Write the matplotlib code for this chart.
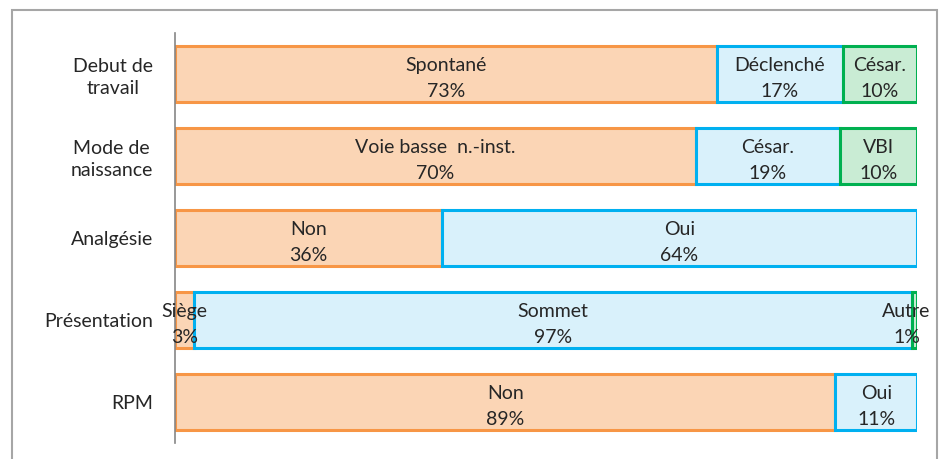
import matplotlib.pyplot as plt
from matplotlib.patches import Rectangle

# categories (top to bottom)
categories = ['Debut de\ntravail', 'Mode de\nnaissance', 'Analgésie', 'Présentation', 'RPM']

# segments per category: names and percentages (left to right)
seg_names = [
    ['Spontané', 'Déclenché', 'César.'],
    ['Voie basse  n.-inst.', 'César.', 'VBI'],
    ['Non', 'Oui'],
    ['Siège', 'Sommet', 'Autre'],
    ['Non', 'Oui'],
]
seg_values = [
    [73.0, 17.0, 10.0],
    [70.2, 19.4, 10.4],
    [36.0, 64.0],
    [2.6, 96.7, 0.7],
    [89.0, 11.0],
]

fills = ['#fbd5b5', '#d9f1fb', '#c9ecd4']
edges = ['#f79646', '#00b0f0', '#00b050']

plt.rcParams['font.family'] = ['Lato', 'DejaVu Sans']

fig = plt.figure(figsize=(9.4, 4.59), dpi=100)
# outer chart border
fig.patches.append(Rectangle((12 / 940, -0.05), (937 - 12) / 940, 1.05 - 10 / 459,
                             transform=fig.transFigure, fill=False,
                             edgecolor='#a6a6a6', linewidth=1.5))

ax = fig.add_axes([175 / 940, 1 - 443 / 459, (917 - 175) / 940, (443 - 33) / 459])

for i, (names, vals) in enumerate(zip(seg_names, seg_values)):
    left = 0
    for j, (name, v) in enumerate(zip(names, vals)):
        ax.barh(i, v, left=left, height=0.68, color=fills[j], edgecolor=edges[j],
                linewidth=2.2, zorder=2)
        xc = min(left + v / 2, 98.6)
        ax.text(xc, i - 0.04, name, ha='center', va='baseline', fontsize=14,
                color='#262626', zorder=3)
        ax.text(xc, i + 0.285, f'{v:.0f}%', ha='center', va='baseline', fontsize=14,
                color='#262626', zorder=3)
        left += v

ax.set_xlim(0, 100)
ax.set_ylim(4.5, -0.5)
ax.set_yticks(range(len(categories)))
ax.set_yticklabels(categories, fontsize=14, color='#262626', multialignment='center',
                   linespacing=1.35)
ax.tick_params(axis='y', length=0, pad=16)
ax.set_xticks([])
for s in ['top', 'right', 'bottom']:
    ax.spines[s].set_visible(False)
ax.spines['left'].set_color('#868686')
ax.spines['left'].set_linewidth(1.2)
ax.patch.set_alpha(0)

plt.savefig('out.png', dpi=100)
